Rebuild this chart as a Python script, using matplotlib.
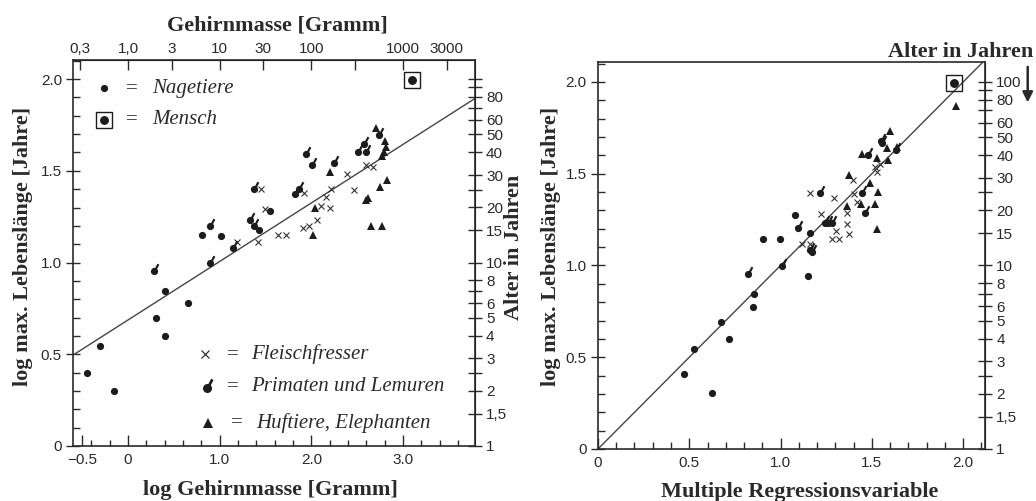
import numpy as np
import matplotlib
matplotlib.use("Agg")
import matplotlib.pyplot as plt
from matplotlib.path import Path
from matplotlib.ticker import FixedLocator, MultipleLocator

# ---------------- Left panel: log brain mass [g] vs log max. lifespan [years]
L_rod_x = [-0.45, -0.31, -0.15, 0.30, 0.40, 0.40, 0.65, 0.81, 1.01, 1.43, 1.55]
L_rod_y = [0.40, 0.545, 0.30, 0.695, 0.845, 0.60, 0.78, 1.15, 1.145, 1.18, 1.28]
L_man_x = [3.10]
L_man_y = [1.995]
L_carn_x = [1.19, 1.45, 1.49, 1.42, 1.64, 1.72, 1.92, 2.21, 2.16, 2.11, 2.20, 2.06,
            1.97, 1.91, 2.39, 2.60, 2.67, 2.46]
L_carn_y = [1.11, 1.40, 1.29, 1.11, 1.15, 1.15, 1.38, 1.40, 1.36, 1.31, 1.30, 1.23,
            1.20, 1.19, 1.48, 1.53, 1.52, 1.395]
L_prim_x = [0.28, 0.89, 0.89, 1.14, 1.375, 1.33, 1.37, 1.82, 1.86, 1.94, 2.01, 2.25,
            2.74, 2.57, 2.51, 2.60]
L_prim_y = [0.955, 1.20, 1.00, 1.08, 1.40, 1.23, 1.20, 1.375, 1.40, 1.59, 1.53, 1.54,
            1.695, 1.645, 1.60, 1.60]
L_ung_x = [2.20, 2.04, 2.02, 2.71, 2.80, 2.81, 2.79, 2.77, 2.83, 2.75, 2.62, 2.60, 2.65, 2.77]
L_ung_y = [1.495, 1.30, 1.15, 1.735, 1.665, 1.63, 1.60, 1.58, 1.45, 1.41, 1.35, 1.34, 1.20, 1.20]
L_fit_intercept = 0.687
L_fit_slope = 0.319

# ---------------- Right panel: multiple regression variable vs log max. lifespan
R_rod_x = [1.08, 0.906, 0.997, 0.857, 0.851, 0.674, 0.72, 0.528, 0.471, 0.626, 1.149, 1.162]
R_rod_y = [1.275, 1.144, 1.144, 0.845, 0.775, 0.694, 0.60, 0.543, 0.407, 0.307, 0.943, 1.175]
R_man_x = [1.952]
R_man_y = [1.993]
R_prim_x = [1.01, 0.82, 1.098, 1.162, 1.17, 1.216, 1.244, 1.262, 1.28, 1.445, 1.46,
            1.549, 1.555, 1.633, 1.48]
R_prim_y = [0.997, 0.954, 1.203, 1.085, 1.075, 1.393, 1.23, 1.23, 1.233, 1.393, 1.284,
            1.678, 1.668, 1.629, 1.60]
R_carn_x = [1.116, 1.162, 1.222, 1.162, 1.293, 1.302, 1.284, 1.322, 1.363, 1.377, 1.366,
            1.395, 1.404, 1.42, 1.527, 1.518, 1.545]
R_carn_y = [1.117, 1.117, 1.279, 1.393, 1.37, 1.19, 1.143, 1.143, 1.226, 1.17, 1.288,
            1.466, 1.39, 1.348, 1.511, 1.538, 1.551]
R_ung_x = [1.366, 1.377, 1.44, 1.49, 1.536, 1.518, 1.527, 1.962, 1.60, 1.585, 1.64, 1.445, 1.527, 1.59]
R_ung_y = [1.324, 1.493, 1.335, 1.448, 1.402, 1.333, 1.197, 1.871, 1.733, 1.642, 1.647, 1.61, 1.587, 1.575]

# ---------------- ticks / labels
brain_mass_ticks = [0.3, 1, 3, 10, 30, 100, 300, 1000, 3000]
brain_mass_labels = ["0,3", "1,0", "3", "10", "30", "100", "", "1000", "3000"]
age_ticks = [1, 1.5, 2, 2.5, 3, 4, 5, 6, 7, 8, 10, 15, 20, 25, 30, 40, 50, 60, 70, 80, 90, 100]
age_labels_left = ["1", "1,5", "2", "", "3", "4", "5", "6", "", "8", "10", "15", "20", "",
                   "30", "40", "50", "60", "", "80", "", ""]
age_labels_right = age_labels_left[:-1] + ["100"]
L_xmajor = [-0.5, 0, 1.0, 2.0, 3.0]
L_xmajor_labels = ["\u22120.5", "0", "1.0", "2.0", "3.0"]
ymajor = [0, 0.5, 1.0, 1.5, 2.0]
ymajor_labels = ["0", "0.5", "1.0", "1.5", "2.0"]
R_xmajor = [0, 0.5, 1.0, 1.5, 2.0]
R_xmajor_labels = ["0", "0.5", "1.0", "1.5", "2.0"]

INK = "#1c1c1c"
TXT = "#2a2a2a"
SERIF = "Liberation Serif"
SANS = "Liberation Sans"
TICKFS = 11


def primate_path(angle_deg=62, r0=0.85, r1=2.3, hw=0.3):
    circ = Path.unit_circle()
    a = np.deg2rad(angle_deg)
    u = np.array([np.cos(a), np.sin(a)])
    n = np.array([-u[1], u[0]])
    verts = [r0 * u - hw * n, r1 * u - hw * n, r1 * u + hw * n, r0 * u + hw * n, r0 * u - hw * n]
    tail = Path(verts, [Path.MOVETO, Path.LINETO, Path.LINETO, Path.LINETO, Path.CLOSEPOLY])
    p = Path.make_compound_path(circ, tail)
    return p, np.max(np.abs(p.vertices))


PRIM, PRIM_SCALE = primate_path()
CIRC_MS = 5.2


def draw_groups(ax, rod, man, carn, prim, ung):
    ax.plot(rod[0], rod[1], ls="none", marker="o", ms=CIRC_MS, mfc=INK, mec=INK, mew=0, zorder=3)
    ax.plot(man[0], man[1], ls="none", marker="o", ms=6.4, mfc=INK, mec=INK, mew=0, zorder=3)
    ax.plot(man[0], man[1], ls="none", marker="s", ms=12, mfc="none", mec=INK, mew=1.0, zorder=3)
    ax.plot(carn[0], carn[1], ls="none", marker="x", ms=5, mec="#333333", mew=0.8, zorder=3)
    ax.plot(prim[0], prim[1], ls="none", marker=PRIM, ms=CIRC_MS * PRIM_SCALE, mfc=INK, mec=INK,
            mew=0, zorder=3)
    ax.plot(ung[0], ung[1], ls="none", marker="^", ms=6, mfc=INK, mec=INK, mew=0, zorder=3)


def style_frame(ax):
    for s in ax.spines.values():
        s.set_linewidth(1.2)
        s.set_color(TXT)


fig = plt.figure(figsize=(10.36, 5.01), dpi=100)

# ================= LEFT PANEL
axL = fig.add_axes([0.0705, 0.1098, 0.388, 0.7704])
xlimL = (-0.60, 3.785)
ylim = (0.0, 2.104)
draw_groups(axL, (L_rod_x, L_rod_y), (L_man_x, L_man_y), (L_carn_x, L_carn_y),
            (L_prim_x, L_prim_y), (L_ung_x, L_ung_y))
xs = np.array(xlimL)
axL.plot(xs, L_fit_intercept + L_fit_slope * xs, color="#444444", lw=1.0, zorder=2)
axL.set_xlim(*xlimL)
axL.set_ylim(*ylim)
style_frame(axL)
axL.xaxis.set_major_locator(FixedLocator(L_xmajor))
axL.set_xticklabels(L_xmajor_labels)
axL.xaxis.set_minor_locator(FixedLocator(np.arange(-0.4, 3.79, 0.2)))
axL.yaxis.set_major_locator(FixedLocator(ymajor))
axL.set_yticklabels(ymajor_labels)
axL.yaxis.set_minor_locator(MultipleLocator(0.1))
axL.tick_params(axis="x", which="major", direction="in", length=8, width=1, pad=5, colors=TXT,
                labelsize=TICKFS)
axL.tick_params(axis="x", which="minor", direction="in", length=4, width=1, colors=TXT)
axL.tick_params(axis="y", which="major", direction="inout", length=10, width=1, pad=3, colors=TXT,
                labelsize=TICKFS)
axL.tick_params(axis="y", which="minor", direction="in", length=5, width=1, colors=TXT)
for lab in axL.get_xticklabels() + axL.get_yticklabels():
    lab.set_family(SANS)

# top axis: brain mass in grams
axT = axL.secondary_xaxis("top")
axT.set_xticks(np.log10(brain_mass_ticks))
axT.set_xticklabels(brain_mass_labels)
axT.tick_params(direction="in", length=7, width=1, pad=3, colors=TXT, labelsize=TICKFS)
for lab in axT.get_xticklabels():
    lab.set_family(SANS)

# right axis: age in years
axR1 = axL.secondary_yaxis("right")
axR1.set_yticks(np.log10(age_ticks))
axR1.set_yticklabels(age_labels_left)
axR1.tick_params(direction="inout", length=10, width=1, pad=3, colors=TXT, labelsize=TICKFS)
for lab in axR1.get_yticklabels():
    lab.set_family(SANS)

# in-plot key
tr = axL.transAxes
keyfs = 15
axL.plot([0.078], [0.927], transform=tr, marker="o", ms=CIRC_MS, mfc=INK, mec=INK, mew=0, ls="none")
axL.text(0.146, 0.927, "=", transform=tr, fontsize=keyfs, family=SERIF, color=TXT, ha="center", va="center")
axL.text(0.196, 0.927, "Nagetiere", transform=tr, fontsize=keyfs, family=SERIF, style="italic",
         color=TXT, ha="left", va="center")
axL.plot([0.078], [0.845], transform=tr, marker="o", ms=6.4, mfc=INK, mec=INK, mew=0, ls="none")
axL.plot([0.078], [0.845], transform=tr, marker="s", ms=12, mfc="none", mec=INK, mew=1.0, ls="none")
axL.text(0.146, 0.845, "=", transform=tr, fontsize=keyfs, family=SERIF, color=TXT, ha="center", va="center")
axL.text(0.196, 0.845, "Mensch", transform=tr, fontsize=keyfs, family=SERIF, style="italic",
         color=TXT, ha="left", va="center")

axL.plot([0.328], [0.238], transform=tr, marker="x", ms=6, mec="#333333", mew=0.9, ls="none")
axL.text(0.398, 0.238, "=", transform=tr, fontsize=keyfs, family=SERIF, color=TXT, ha="center", va="center")
axL.text(0.443, 0.238, "Fleischfresser", transform=tr, fontsize=keyfs, family=SERIF, style="italic",
         color=TXT, ha="left", va="center")
axL.plot([0.334], [0.150], transform=tr, marker=PRIM, ms=6.5 * PRIM_SCALE, mfc=INK, mec=INK, mew=0, ls="none")
axL.text(0.398, 0.153, "=", transform=tr, fontsize=keyfs, family=SERIF, color=TXT, ha="center", va="center")
axL.text(0.443, 0.153, "Primaten und Lemuren", transform=tr, fontsize=keyfs, family=SERIF, style="italic",
         color=TXT, ha="left", va="center")
axL.plot([0.336], [0.060], transform=tr, marker="^", ms=6.5, mfc=INK, mec=INK, mew=0, ls="none")
axL.text(0.408, 0.060, "=", transform=tr, fontsize=keyfs, family=SERIF, color=TXT, ha="center", va="center")
axL.text(0.455, 0.060, "Huftiere, Elephanten", transform=tr, fontsize=keyfs, family=SERIF, style="italic",
         color=TXT, ha="left", va="center")

# ================= RIGHT PANEL
axR = fig.add_axes([0.5772, 0.1038, 0.3736, 0.7725])
xlimR = (0.0, 2.12)
ylimR = (0.0, 2.109)
draw_groups(axR, (R_rod_x, R_rod_y), (R_man_x, R_man_y), (R_carn_x, R_carn_y),
            (R_prim_x, R_prim_y), (R_ung_x, R_ung_y))
xr = np.array(xlimR)
axR.plot(xr, xr, color="#444444", lw=1.0, zorder=2)
axR.set_xlim(*xlimR)
axR.set_ylim(*ylimR)
style_frame(axR)
axR.xaxis.set_major_locator(FixedLocator(R_xmajor))
axR.set_xticklabels(R_xmajor_labels)
axR.xaxis.set_minor_locator(MultipleLocator(0.1))
axR.yaxis.set_major_locator(FixedLocator(ymajor))
axR.set_yticklabels(ymajor_labels)
axR.yaxis.set_minor_locator(MultipleLocator(0.1))
axR.tick_params(axis="x", which="major", direction="in", length=8, width=1, pad=5, colors=TXT,
                labelsize=TICKFS)
axR.tick_params(axis="x", which="minor", direction="in", length=5, width=1, colors=TXT)
axR.tick_params(axis="y", which="major", direction="inout", length=10, width=1, pad=3, colors=TXT,
                labelsize=TICKFS)
axR.tick_params(axis="y", which="minor", direction="in", length=5, width=1, colors=TXT)
for lab in axR.get_xticklabels() + axR.get_yticklabels():
    lab.set_family(SANS)

axR2 = axR.secondary_yaxis("right")
axR2.set_yticks(np.log10(age_ticks))
axR2.set_yticklabels(age_labels_right)
axR2.tick_params(direction="inout", length=10, width=1, pad=3, colors=TXT, labelsize=TICKFS)
for lab in axR2.get_yticklabels():
    lab.set_family(SANS)

# ================= axis titles
LBL = dict(family=SERIF, weight="bold", fontsize=16, color=TXT, ha="center", va="center")
fig.text(0.0222, 0.509, "log max. Lebenslänge [Jahre]", rotation=90, **LBL)
fig.text(0.2606, 0.022, "log Gehirnmasse [Gramm]", **LBL)
fig.text(0.2674, 0.950, "Gehirnmasse [Gramm]", **LBL)
fig.text(0.496, 0.507, "Alter in Jahren", rotation=90, **LBL)
fig.text(0.532, 0.509, "log max. Lebenslänge [Jahre]", rotation=90, **LBL)
fig.text(0.772, 0.018, "Multiple Regressionsvariable", **LBL)
fig.text(0.927, 0.896, "Alter in Jahren", **LBL)
fig.add_artist(matplotlib.patches.FancyArrowPatch((0.992, 0.872), (0.992, 0.790),
                                                  transform=fig.transFigure, arrowstyle="-|>",
                                                  mutation_scale=15, lw=1.8, color=TXT))

fig.savefig("out.png", dpi=100)
